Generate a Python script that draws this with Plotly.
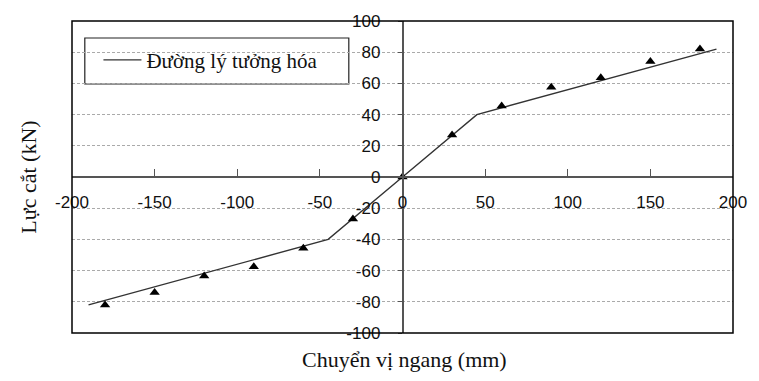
import plotly.graph_objects as go

# Idealized (bilinear) curve
ideal_x = [-190, -45, 0, 45, 190]
ideal_y = [-82, -40, 0, 40, 82]

# Experimental points
exp_x = [-180, -150, -120, -90, -60, -30, 0, 30, 60, 90, 120, 150, 180]
exp_y = [-82, -74, -63.5, -57.5, -45.7, -27, 0, 27, 45.5, 57.5, 63.7, 74, 82]

x_ticks = [-200, -150, -100, -50, 0, 50, 100, 150, 200]
x_tick_text = ["-200", "-150", "-100", "-50", "0", "50", "100", "150", "200"]
y_ticks = [-100, -80, -60, -40, -20, 0, 20, 40, 60, 80, 100]
y_tick_text = ["-100", "-80", "-60", "-40", "-20", "0", "20", "40", "60", "80", "100"]

legend_name = "Đường lý tưởng hóa"
x_title = "Chuyển vị ngang (mm)"
y_title = "Lực cắt (kN)"

fig = go.Figure()
fig.add_trace(go.Scatter(
    x=ideal_x, y=ideal_y, mode="lines", name=legend_name,
    line=dict(color="#333333", width=1.4), showlegend=True,
))
fig.add_trace(go.Scatter(
    x=exp_x, y=exp_y, mode="markers", showlegend=False,
    marker=dict(symbol="triangle-up", size=9, color="black"),
))

tick_font = dict(family="Liberation Sans, Arial, sans-serif", size=17, color="#111111")
serif = "Liberation Serif, Times New Roman, serif"

fig.update_layout(
    width=759, height=381,
    margin=dict(l=72, r=16, t=21, b=48),
    paper_bgcolor="white", plot_bgcolor="white",
    xaxis=dict(
        range=[-200, 200], tickmode="array", tickvals=x_ticks, ticktext=x_tick_text,
        showgrid=False, zeroline=False,
        showline=True, linecolor="#555555", linewidth=1.5,
        anchor="free", position=0.5,
        ticks="inside", ticklen=7, tickcolor="#555555", tickwidth=1,
        tickfont=tick_font, ticklabelstandoff=10,
    ),
    yaxis=dict(
        range=[-100, 100], tickmode="array", tickvals=y_ticks, ticktext=y_tick_text,
        showgrid=True, gridcolor="#aaaaaa", griddash="3px,2px", gridwidth=1,
        zeroline=False,
        showline=True, linecolor="#555555", linewidth=1.5,
        anchor="free", position=0.5,
        ticks="outside", ticklen=4, tickcolor="#555555", tickwidth=1,
        tickfont=tick_font, ticklabelstandoff=14,
    ),
    showlegend=True,
    legend=dict(
        x=0.04, y=0.94, xanchor="left", yanchor="top",
        bgcolor="rgba(0,0,0,0)", borderwidth=0,
        font=dict(family=serif, size=21, color="#111111"),
        itemwidth=38,
    ),
    shapes=[
        dict(type="rect", xref="paper", yref="paper", x0=0, x1=1, y0=0, y1=1,
             line=dict(color="black", width=1.5), layer="above"),
        dict(type="rect", xref="paper", yref="paper",
             x0=(85 - 72) / 671, x1=(353 - 72) / 671,
             y0=(333 - 84) / 312, y1=(333 - 38) / 312,
             line=dict(color="#222222", width=1.2), fillcolor="white", layer="below"),
    ],
    annotations=[
        dict(text=x_title, xref="paper", yref="paper", x=(410 - 72) / 671, y=-(359 - 333) / 312,
             showarrow=False, font=dict(family=serif, size=22, color="#111111"),
             xanchor="center", yanchor="middle"),
        dict(text=y_title, xref="paper", yref="paper", x=-(72 - 27) / 671, y=0.5,
             textangle=-90, showarrow=False, font=dict(family=serif, size=22, color="#111111"),
             xanchor="center", yanchor="middle"),
    ],
)

fig.write_html("out.html")
